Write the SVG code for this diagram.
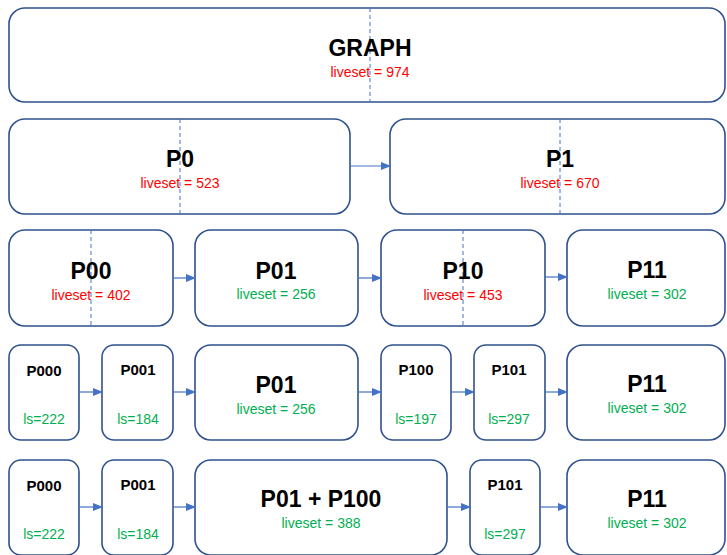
<svg xmlns="http://www.w3.org/2000/svg" width="727" height="555" viewBox="0 0 727 555">
<style>
.box{fill:#fff;stroke:#2F528F;stroke-width:1.6}
.dash{stroke:#4472C4;stroke-width:1;stroke-dasharray:4,3}
.conn{stroke:#4472C4;stroke-width:1.2;fill:none;marker-end:url(#ah)}
.t{font-family:"Liberation Sans",Arial,sans-serif;font-weight:bold;fill:#000;text-anchor:middle}
.big{font-size:23px}
.sm{font-size:15px}
.v{font-family:"Liberation Sans",Arial,sans-serif;font-size:14px;text-anchor:middle}
.red{fill:#FF0000}
.grn{fill:#00B050}
</style>
<defs>
<marker id="ah" markerWidth="10" markerHeight="8" refX="9" refY="4" orient="auto" markerUnits="userSpaceOnUse">
<path d="M0,0 L10,4 L0,8 z" fill="#4472C4"/>
</marker>
</defs>
<rect width="727" height="555" fill="#fff"/>

<g id="graph">
<rect class="box" x="9" y="8" width="716" height="94" rx="16"/>
<line class="dash" x1="370" y1="8" x2="370" y2="102"/>
<text class="t big" x="370" y="56">GRAPH</text>
<text class="v red" x="370" y="77">liveset = 974</text>
</g>

<g id="p0">
<rect class="box" x="9" y="119" width="341" height="95" rx="16"/>
<line class="dash" x1="180" y1="119" x2="180" y2="214"/>
<text class="t big" x="180" y="167">P0</text>
<text class="v red" x="180" y="188">liveset = 523</text>
</g>
<g id="p1">
<rect class="box" x="390" y="119" width="335" height="95" rx="16"/>
<line class="dash" x1="560" y1="119" x2="560" y2="214"/>
<text class="t big" x="560" y="167">P1</text>
<text class="v red" x="560" y="188">liveset = 670</text>
</g>

<g id="r3-p00">
<rect class="box" x="9" y="230" width="164" height="96" rx="16"/>
<line class="dash" x1="91" y1="230" x2="91" y2="326"/>
<text class="t big" x="91" y="279">P00</text>
<text class="v red" x="91" y="300">liveset = 402</text>
</g>
<g id="r3-p01">
<rect class="box" x="195" y="230" width="163" height="96" rx="16"/>
<text class="t big" x="276" y="279">P01</text>
<text class="v grn" x="276" y="299">liveset = 256</text>
</g>
<g id="r3-p10">
<rect class="box" x="381" y="230" width="164" height="96" rx="16"/>
<line class="dash" x1="463" y1="230" x2="463" y2="326"/>
<text class="t big" x="463" y="279">P10</text>
<text class="v red" x="463" y="300">liveset = 453</text>
</g>
<g id="r3-p11">
<rect class="box" x="567" y="230" width="158" height="96" rx="16"/>
<text class="t big" x="647" y="278">P11</text>
<text class="v grn" x="647" y="299">liveset = 302</text>
</g>

<g id="r4-p000">
<rect class="box" x="9" y="345" width="70" height="95" rx="12"/>
<text class="t sm" x="44" y="376">P000</text>
<text class="v grn" x="44" y="424">ls=222</text>
</g>
<g id="r4-p001">
<rect class="box" x="102" y="345" width="71" height="95" rx="12"/>
<text class="t sm" x="138" y="375">P001</text>
<text class="v grn" x="138" y="424">ls=184</text>
</g>
<g id="r4-p01">
<rect class="box" x="195" y="345" width="163" height="95" rx="16"/>
<text class="t big" x="276" y="393">P01</text>
<text class="v grn" x="276" y="414">liveset = 256</text>
</g>
<g id="r4-p100">
<rect class="box" x="381" y="345" width="70" height="95" rx="12"/>
<text class="t sm" x="416" y="375">P100</text>
<text class="v grn" x="416" y="424">ls=197</text>
</g>
<g id="r4-p101">
<rect class="box" x="474" y="345" width="71" height="95" rx="12"/>
<text class="t sm" x="509" y="375">P101</text>
<text class="v grn" x="509" y="424">ls=297</text>
</g>
<g id="r4-p11">
<rect class="box" x="567" y="345" width="158" height="95" rx="16"/>
<text class="t big" x="647" y="392">P11</text>
<text class="v grn" x="647" y="413">liveset = 302</text>
</g>

<g id="r5-p000">
<rect class="box" x="9" y="460" width="70" height="95" rx="12"/>
<text class="t sm" x="44" y="491">P000</text>
<text class="v grn" x="44" y="539">ls=222</text>
</g>
<g id="r5-p001">
<rect class="box" x="102" y="460" width="71" height="95" rx="12"/>
<text class="t sm" x="138" y="490">P001</text>
<text class="v grn" x="138" y="539">ls=184</text>
</g>
<g id="r5-p01p100">
<rect class="box" x="195" y="460" width="252" height="95" rx="16"/>
<text class="t big" x="321" y="507">P01 + P100</text>
<text class="v grn" x="321" y="528">liveset = 388</text>
</g>
<g id="r5-p101">
<rect class="box" x="470" y="460" width="70" height="95" rx="12"/>
<text class="t sm" x="505" y="490">P101</text>
<text class="v grn" x="505" y="539">ls=297</text>
</g>
<g id="r5-p11">
<rect class="box" x="567" y="460" width="158" height="95" rx="16"/>
<text class="t big" x="647" y="507">P11</text>
<text class="v grn" x="647" y="528">liveset = 302</text>
</g>

<g id="connectors">
<line class="conn" x1="350" y1="166" x2="390" y2="166"/>
<line class="conn" x1="173" y1="278" x2="195" y2="278"/>
<line class="conn" x1="358" y1="278" x2="381" y2="278"/>
<line class="conn" x1="545" y1="277" x2="567" y2="277"/>
<line class="conn" x1="79" y1="392" x2="102" y2="392"/>
<line class="conn" x1="173" y1="392" x2="195" y2="392"/>
<line class="conn" x1="358" y1="392" x2="381" y2="392"/>
<line class="conn" x1="451" y1="392" x2="474" y2="392"/>
<line class="conn" x1="545" y1="392" x2="567" y2="392"/>
<line class="conn" x1="79" y1="507" x2="102" y2="507"/>
<line class="conn" x1="173" y1="507" x2="195" y2="507"/>
<line class="conn" x1="447" y1="507" x2="470" y2="507"/>
<line class="conn" x1="540" y1="507" x2="567" y2="507"/>
</g>
</svg>
